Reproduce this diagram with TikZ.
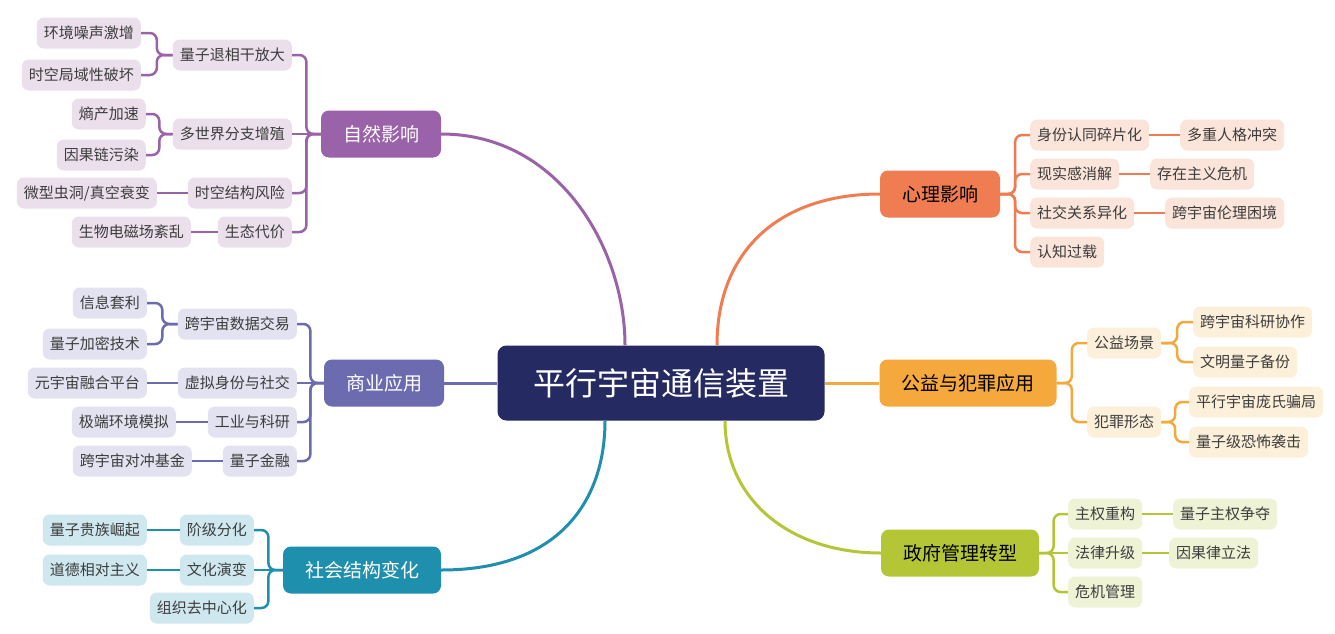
\documentclass[tikz,border=0pt]{standalone}
\usepackage{fontspec}
\newfontfamily\cjk{Noto Sans CJK SC}
\usetikzlibrary{calc}
\definecolor{navy}{HTML}{262A62}
\definecolor{pu}{HTML}{9A62A8}\definecolor{puL}{HTML}{EBDFEC}
\definecolor{sl}{HTML}{6D6BB0}\definecolor{slL}{HTML}{E2E2F1}
\definecolor{te}{HTML}{1F8FAE}\definecolor{teL}{HTML}{CFE8F0}
\definecolor{or}{HTML}{EF7D51}\definecolor{orL}{HTML}{FBE4DA}
\definecolor{am}{HTML}{F5A83B}\definecolor{amL}{HTML}{FDF0DA}
\definecolor{ol}{HTML}{B4C536}\definecolor{olL}{HTML}{EEF3D6}
\definecolor{txt}{HTML}{3C3C3C}
\tikzset{
  lvl/.style={rounded corners=7pt, inner xsep=7pt, inner ysep=0pt, minimum height=31pt, text=txt, font=\cjk\fontsize{15}{18}\selectfont},
  mainb/.style={rounded corners=8pt, inner xsep=22pt, inner ysep=0pt, minimum height=47pt, font=\cjk\fontsize{19}{22}\selectfont},
  cn/.style={line width=2.5pt, rounded corners=7pt},
  sn/.style={line width=2.5pt},
  cv/.style={line width=3pt},
}
\newcommand\lconn[3]{\draw[cn,#1] (#2.west) -- ($(#2.west)!.5!(#3.east |- #2.west)$) |- (#3.east);}
\newcommand\rconn[3]{\draw[cn,#1] (#2.east) -- ($(#2.east)!.5!(#3.west |- #2.east)$) |- (#3.west);}
\newcommand\lstr[3]{\draw[sn,#1] (#2.west) -- (#3.east);}
\newcommand\rstr[3]{\draw[sn,#1] (#2.east) -- (#3.west);}
\begin{document}
\begin{tikzpicture}[x=1pt,y=-1pt]
\useasboundingbox (0,0) rectangle (1335,633);
\fill[white] (0,0) rectangle (1335,633);
% center
\node[rounded corners=9pt, fill=navy, text=white, minimum width=327pt, minimum height=75pt, inner sep=0pt, font=\cjk\fontsize{32}{36}\selectfont] (c) at (661,383) {平行宇宙通信装置};
% main nodes
\node[mainb, fill=pu, text=white] (m1) at (381,134) {自然影响};
\node[mainb, fill=sl, text=white] (m2) at (384,383) {商业应用};
\node[mainb, fill=te, text=white] (m3) at (362,570) {社会结构变化};
\node[mainb, fill=or, text=black] (m4) at (940,194) {心理影响};
\node[mainb, fill=am, text=black] (m5) at (968,383) {公益与犯罪应用};
\node[mainb, fill=ol, text=black] (m6) at (960,553) {政府管理转型};
% center connectors
\draw[cv, pu] (m1.east) .. controls (560,134) and (625,250) .. (c.north -| 625,0);
\draw[cv, sl] (m2.east) -- (c.west);
\draw[cv, te] (m3.east) .. controls (560,570) and (605,500) .. (c.south -| 605,0);
\draw[cv, or] (c.north -| 717,0) .. controls (717,250) and (780,194) .. (m4.west);
\draw[cv, am] (c.east) -- (m5.west);
\draw[cv, ol] (c.south -| 725,0) .. controls (725,500) and (790,553) .. (m6.west);
% ---- 自然影响
\begin{scope}[every node/.append style={lvl, fill=puL}]
\node[anchor=east] (a1) at (292,55) {量子退相干放大};
\node[anchor=east] (a2) at (292,134) {多世界分支增殖};
\node[anchor=east] (a3) at (292,193) {时空结构风险};
\node[anchor=east] (a4) at (292,232) {生态代价};
\node[anchor=east] (a11) at (141,33) {环境噪声激增};
\node[anchor=east] (a12) at (141,75) {时空局域性破坏};
\node[anchor=east] (a21) at (146,114) {熵产加速};
\node[anchor=east] (a22) at (146,155) {因果链污染};
\node[anchor=east] (a31) at (157,193) {微型虫洞/真空衰变};
\node[anchor=east] (a41) at (191,232) {生物电磁场紊乱};
\end{scope}
\foreach \n in {a1,a3,a4}{\lconn{pu}{m1}{\n}}
\lstr{pu}{m1}{a2}
\lconn{pu}{a1}{a11}\lconn{pu}{a1}{a12}
\lconn{pu}{a2}{a21}\lconn{pu}{a2}{a22}
\lstr{pu}{a3}{a31}\lstr{pu}{a4}{a41}
% ---- 商业应用
\begin{scope}[every node/.append style={lvl, fill=slL}]
\node[anchor=east] (b1) at (297,324) {跨宇宙数据交易};
\node[anchor=east] (b2) at (297,383) {虚拟身份与社交};
\node[anchor=east] (b3) at (297,422) {工业与科研};
\node[anchor=east] (b4) at (297,461) {量子金融};
\node[anchor=east] (b11) at (147,303) {信息套利};
\node[anchor=east] (b12) at (147,344) {量子加密技术};
\node[anchor=east] (b21) at (147,383) {元宇宙融合平台};
\node[anchor=east] (b31) at (176,422) {极端环境模拟};
\node[anchor=east] (b41) at (192,461) {跨宇宙对冲基金};
\end{scope}
\foreach \n in {b1,b3,b4}{\lconn{sl}{m2}{\n}}
\lstr{sl}{m2}{b2}
\lconn{sl}{b1}{b11}\lconn{sl}{b1}{b12}
\lstr{sl}{b2}{b21}\lstr{sl}{b3}{b31}\lstr{sl}{b4}{b41}
% ---- 社会结构变化
\begin{scope}[every node/.append style={lvl, fill=teL}]
\node[anchor=east] (s1) at (254,530) {阶级分化};
\node[anchor=east] (s2) at (254,570) {文化演变};
\node[anchor=east] (s3) at (254,608) {组织去中心化};
\node[anchor=east] (s11) at (147,530) {量子贵族崛起};
\node[anchor=east] (s21) at (147,570) {道德相对主义};
\end{scope}
\foreach \n in {s1,s3}{\lconn{te}{m3}{\n}}
\lstr{te}{m3}{s2}
\lstr{te}{s1}{s11}\lstr{te}{s2}{s21}
% ---- 心理影响
\begin{scope}[every node/.append style={lvl, fill=orL}]
\node[anchor=west] (p1) at (1030,135) {身份认同碎片化};
\node[anchor=west] (p2) at (1030,174) {现实感消解};
\node[anchor=west] (p3) at (1030,213) {社交关系异化};
\node[anchor=west] (p4) at (1030,252) {认知过载};
\node[anchor=west] (p11) at (1180,135) {多重人格冲突};
\node[anchor=west] (p21) at (1150,174) {存在主义危机};
\node[anchor=west] (p31) at (1165,213) {跨宇宙伦理困境};
\end{scope}
\foreach \n in {p1,p2,p3,p4}{\rconn{or}{m4}{\n}}
\rstr{or}{p1}{p11}\rstr{or}{p2}{p21}\rstr{or}{p3}{p31}
% ---- 公益与犯罪应用
\begin{scope}[every node/.append style={lvl, fill=amL}]
\node[anchor=west] (g1) at (1087,343) {公益场景};
\node[anchor=west] (g2) at (1087,422) {犯罪形态};
\node[anchor=west] (g11) at (1193,322) {跨宇宙科研协作};
\node[anchor=west] (g12) at (1193,362) {文明量子备份};
\node[anchor=west] (g21) at (1189,402) {平行宇宙庞氏骗局};
\node[anchor=west] (g22) at (1189,442) {量子级恐怖袭击};
\end{scope}
\foreach \n in {g1,g2}{\rconn{am}{m5}{\n}}
\rconn{am}{g1}{g11}\rconn{am}{g1}{g12}
\rconn{am}{g2}{g21}\rconn{am}{g2}{g22}
% ---- 政府管理转型
\begin{scope}[every node/.append style={lvl, fill=olL}]
\node[anchor=west] (z1) at (1068,514) {主权重构};
\node[anchor=west] (z2) at (1068,553) {法律升级};
\node[anchor=west] (z3) at (1068,592) {危机管理};
\node[anchor=west] (z11) at (1173,514) {量子主权争夺};
\node[anchor=west] (z21) at (1169,553) {因果律立法};
\end{scope}
\foreach \n in {z1,z3}{\rconn{ol}{m6}{\n}}
\rstr{ol}{m6}{z2}
\rstr{ol}{z1}{z11}\rstr{ol}{z2}{z21}
\end{tikzpicture}
\end{document}
